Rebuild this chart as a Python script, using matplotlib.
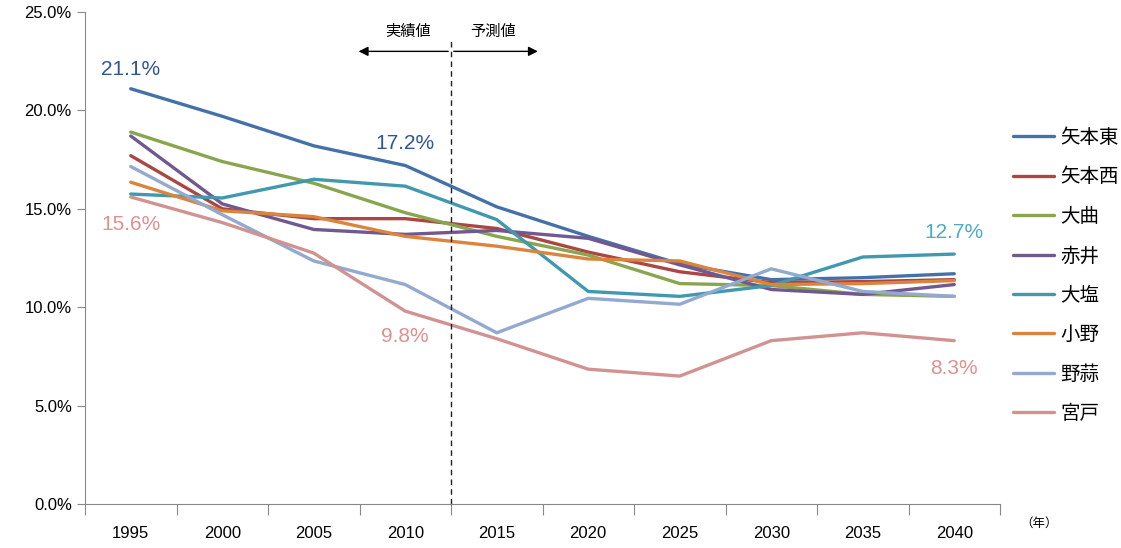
import matplotlib.pyplot as plt
import numpy as np

plt.rcParams['font.family'] = ['Liberation Sans', 'Noto Sans CJK JP', 'DejaVu Sans']

years = ["1995", "2000", "2005", "2010", "2015", "2020", "2025", "2030", "2035", "2040"]
names = ["矢本東", "矢本西", "大曲", "赤井", "大塩", "小野", "野蒜", "宮戸"]

yamoto_higashi = [21.1, 19.7, 18.2, 17.2, 15.1, 13.6, 12.2, 11.4, 11.5, 11.7]
yamoto_nishi = [17.7, 15.0, 14.5, 14.5, 14.0, 12.8, 11.8, 11.25, 11.3, 11.4]
omagari = [18.9, 17.4, 16.3, 14.8, 13.6, 12.65, 11.2, 11.1, 10.65, 10.55]
akai = [18.7, 15.25, 13.95, 13.7, 13.9, 13.5, 12.15, 10.9, 10.65, 11.15]
oshio = [15.75, 15.55, 16.5, 16.15, 14.45, 10.8, 10.55, 11.1, 12.55, 12.7]
ono = [16.35, 14.9, 14.6, 13.6, 13.1, 12.45, 12.35, 11.15, 11.2, 11.35]
nobiru = [17.15, 14.7, 12.35, 11.15, 8.7, 10.45, 10.15, 11.95, 10.8, 10.55]
miyato = [15.6, 14.3, 12.75, 9.8, 8.4, 6.85, 6.5, 8.3, 8.7, 8.3]

series = [yamoto_higashi, yamoto_nishi, omagari, akai, oshio, ono, nobiru, miyato]
colors = ["#4472A8", "#AA4643", "#89A54E", "#71588F", "#4198AF", "#DB843D", "#93A9CF", "#D19392"]

fig = plt.figure(figsize=(11.21, 5.48), dpi=100)
ax = fig.add_axes([85 / 1121, 1 - 504 / 548, 915 / 1121, 492 / 548])

x = np.arange(len(years))
for name, vals, c in zip(names, series, colors):
    ax.plot(x, vals, color=c, lw=2.4, label=name, solid_capstyle="round")

ax.set_xlim(-0.5, len(years) - 0.5)
ax.set_ylim(0, 25)
ax.set_yticks(np.arange(0, 25.1, 5))
ax.set_yticklabels([f"{v:.1f}%" for v in np.arange(0, 25.1, 5)], fontsize=12)
ax.set_xticks(x)
ax.set_xticklabels(years, fontsize=12)
ax.set_xticks(np.arange(-0.5, len(years), 1), minor=True)
ax.tick_params(axis="x", which="major", length=0, pad=16)
ax.tick_params(axis="x", which="minor", length=8, color="#888888", width=0.8)
ax.tick_params(axis="y", length=6, color="#888888", width=0.8)
for s in ["top", "right"]:
    ax.spines[s].set_visible(False)
for s in ["left", "bottom"]:
    ax.spines[s].set_color("#888888")
    ax.spines[s].set_linewidth(0.8)

# actual / forecast divider
ax.plot([3.5, 3.5], [0, 23.6], color="#222222", lw=1, ls=(0, (4, 3)))
ax.annotate("", xy=(2.46, 23.0), xytext=(3.5, 23.0),
            arrowprops=dict(arrowstyle="-|>", color="black", lw=1, mutation_scale=14))
ax.annotate("", xy=(4.48, 23.0), xytext=(3.5, 23.0),
            arrowprops=dict(arrowstyle="-|>", color="black", lw=1, mutation_scale=14))
ax.text(3.03, 24.0, "実績値", ha="center", va="center", fontsize=11,
        family=["Noto Sans CJK JP"])
ax.text(3.96, 24.0, "予測値", ha="center", va="center", fontsize=11,
        family=["Noto Sans CJK JP"])

# data labels
lab_kw = dict(ha="center", va="center", fontsize=15)
ax.text(0, 22.1, "21.1%", color="#2F5597", **lab_kw)
ax.text(3, 18.3, "17.2%", color="#2F5597", **lab_kw)
ax.text(0, 14.2, "15.6%", color="#E0908F", **lab_kw)
ax.text(3, 8.5, "9.8%", color="#E0908F", **lab_kw)
ax.text(9, 13.8, "12.7%", color="#4BACC6", **lab_kw)
ax.text(9, 6.9, "8.3%", color="#E0908F", **lab_kw)

ax.text(9.72, -1.0, "（年）", ha="left", va="center", fontsize=9,
        family=["Noto Sans CJK JP"])

leg = ax.legend(loc="upper left", bbox_to_anchor=(0.995, 0.802), frameon=False,
                handlelength=2.1, labelspacing=0.95, handletextpad=0.35,
                prop={"family": ["Noto Sans CJK JP"], "size": 14})

fig.savefig("out.png", dpi=100)
